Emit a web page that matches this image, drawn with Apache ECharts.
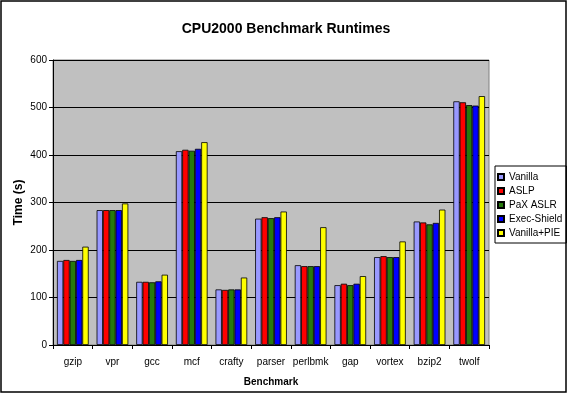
<!DOCTYPE html>
<html>
<head>
<meta charset="utf-8">
<script src="https://cdn.jsdelivr.net/npm/echarts@6/dist/echarts.min.js"></script>
<style>
  html, body { margin: 0; padding: 0; background: #fff; }
  #chart { width: 572px; height: 398px; }
</style>
</head>
<body>
<div id="chart"></div>
<script>
// benchmark names on the x axis
const benchmarks = ["gzip", "vpr", "gcc", "mcf", "crafty", "parser", "perlbmk", "gap", "vortex", "bzip2", "twolf"];

// runtimes in seconds
const vanilla     = [177, 284, 133, 408, 117, 266, 168, 126, 185, 260, 513];
const aslp        = [179, 284, 133, 411, 116, 269, 166, 129, 187, 258, 511];
const paxAslr     = [177, 284, 132, 409, 117, 267, 166, 126, 185, 254, 505];
const execShield  = [179, 284, 134, 413, 117, 269, 166, 129, 185, 257, 504];
const vanillaPie  = [207, 298, 148, 427, 142, 281, 248, 145, 218, 285, 524];

const seriesDefs = [
  { name: "Vanilla", data: vanilla, color: "#9999FF" },
  { name: "ASLP", data: aslp, color: "#FF0000" },
  { name: "PaX ASLR", data: paxAslr, color: "#267A0C" },
  { name: "Exec-Shield", data: execShield, color: "#0000FF" },
  { name: "Vanilla+PIE", data: vanillaPie, color: "#FFFF00" }
];

const chart = echarts.init(document.getElementById("chart"));
const font = "Liberation Sans, Arial, sans-serif";

chart.setOption({
  animation: false,
  textStyle: { fontFamily: font, color: "#000" },
  title: {
    text: "CPU2000 Benchmark Runtimes",
    left: "center",
    top: 17,
    textStyle: { fontFamily: font, fontSize: 14, fontWeight: "bold", color: "#000" }
  },
  graphic: [
    {
      type: "rect",
      shape: { x: 1, y: 1, width: 565, height: 391 },
      style: { fill: "none", stroke: "#000", lineWidth: 1.5 },
      silent: true
    }
  ],
  legend: {
    orient: "vertical",
    left: 495,
    top: 166,
    padding: [5, 4, 4, 2],
    itemGap: 2,
    itemWidth: 6,
    itemHeight: 6,
    borderColor: "#000",
    borderWidth: 1,
    icon: "rect",
    textStyle: { fontFamily: font, fontSize: 10, lineHeight: 12, color: "#000" },
    data: seriesDefs.map(s => s.name)
  },
  grid: {
    left: 53,
    right: 83,
    top: 60,
    bottom: 53,
    show: true,
    backgroundColor: "#C0C0C0",
    borderColor: "#808080",
    borderWidth: 1
  },
  xAxis: {
    type: "category",
    data: benchmarks,
    name: "Benchmark",
    nameLocation: "middle",
    nameGap: 32,
    nameTextStyle: { fontFamily: font, fontSize: 10, fontWeight: "bold", color: "#000" },
    axisLine: { lineStyle: { color: "#000", width: 1 } },
    axisTick: { show: true, length: 4, lineStyle: { color: "#000" } },
    axisLabel: { interval: 0, fontFamily: font, fontSize: 10, color: "#000", margin: 12 }
  },
  yAxis: {
    type: "value",
    min: 0,
    max: 600,
    interval: 100,
    name: "Time (s)",
    nameLocation: "middle",
    nameGap: 28,
    nameMoveOverlap: false,
    nameRotate: 90,
    nameTextStyle: { fontFamily: font, fontSize: 12, fontWeight: "bold", color: "#000" },
    axisLine: { show: true, lineStyle: { color: "#000", width: 1 } },
    axisTick: { show: true, length: 4, lineStyle: { color: "#000" } },
    axisLabel: { fontFamily: font, fontSize: 10, color: "#000", margin: 6 },
    splitLine: { show: true, lineStyle: { color: "#000", width: 1 } }
  },
  series: seriesDefs.map(s => ({
    name: s.name,
    type: "bar",
    data: s.data,
    barGap: "0%",
    barCategoryGap: "20%",
    itemStyle: { color: s.color, borderColor: "#000", borderWidth: 0.8 }
  }))
});
</script>
</body>
</html>
